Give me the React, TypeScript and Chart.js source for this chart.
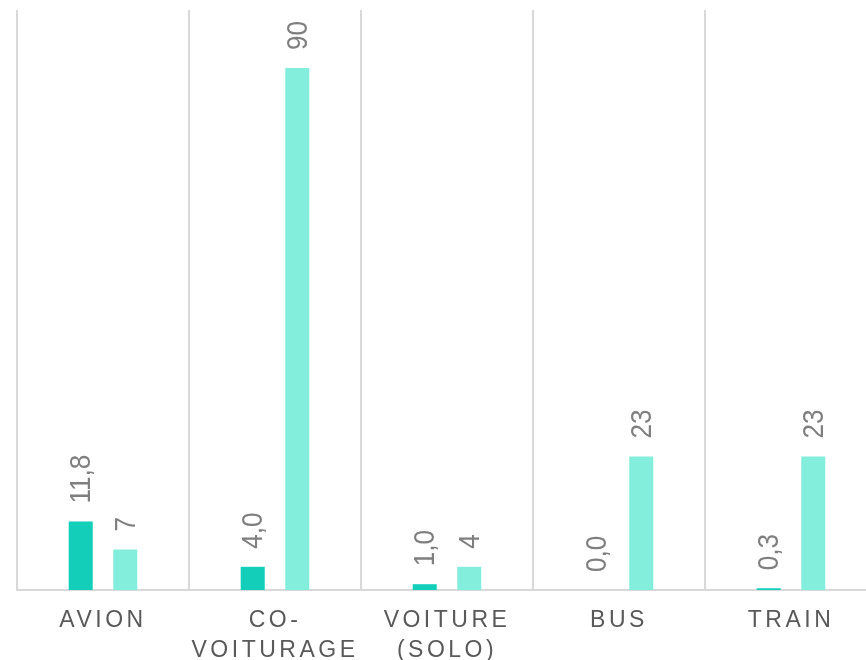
import React, { useEffect, useRef } from "react";
import { Chart, registerables } from "chart.js";

Chart.register(...registerables);

const categories: (string | string[])[] = [
  "AVION",
  ["CO-", "VOITURAGE"],
  ["VOITURE", "(SOLO)"],
  "BUS",
  "TRAIN",
];
const seriesA = [11.8, 4.0, 1.0, 0.0, 0.3];
const seriesB = [7, 90, 4, 23, 23];
const yMin = 0;
const yMax = 100;

const colorA = "#13cfb9";
const colorB = "#84eedc";

const FONT = "'Liberation Sans', Arial, sans-serif";

const labelPlugin = {
  id: "barLabels",
  beforeDraw(chart: any) {
    chart.ctx.letterSpacing = "3.5px";
  },
  beforeDatasetsDraw(chart: any) {
    chart.ctx.letterSpacing = "0px";
  },
  afterDatasetsDraw(chart: any) {
    const ctx = chart.ctx;
    ctx.save();
    ctx.letterSpacing = "0px";
    ctx.font = `30px ${FONT}`;
    ctx.fillStyle = "#7f7f7f";
    ctx.textAlign = "left";
    ctx.textBaseline = "middle";
    chart.data.datasets.forEach((ds: any, di: number) => {
      const meta = chart.getDatasetMeta(di);
      meta.data.forEach((bar: any, i: number) => {
        const v = ds.data[i];
        const txt = di === 0 ? v.toFixed(1).replace(".", ",") : String(Math.round(v));
        ctx.save();
        ctx.translate(bar.x, bar.y - 18);
        ctx.rotate(-Math.PI / 2);
        ctx.scale(0.87, 1);
        ctx.fillText(txt, 0, 1);
        ctx.restore();
      });
    });
    ctx.restore();
  },
};

export default function App() {
  const ref = useRef<HTMLCanvasElement | null>(null);
  useEffect(() => {
    if (!ref.current) return;
    const chart = new Chart(ref.current, {
      type: "bar",
      data: {
        labels: categories,
        datasets: [
          { data: seriesA, backgroundColor: colorA, borderWidth: 0 },
          { data: seriesB, backgroundColor: colorB, borderWidth: 0 },
        ],
      },
      options: {
        responsive: false,
        animation: false,
        layout: { padding: { left: 17, right: 3, top: 10, bottom: 0 } },
        plugins: {
          legend: { display: false },
          tooltip: { enabled: false },
        },
        datasets: {
          bar: { categoryPercentage: 0.518, barPercentage: 0.54 },
        },
        scales: {
          x: {
            grid: {
              display: true,
              offset: true,
              color: "#d9d9d9",
              lineWidth: 2,
              drawTicks: false,
            },
            border: { display: true, color: "#d9d9d9", width: 2 },
            ticks: {
              color: "#595959",
              font: { family: FONT, size: 23, lineHeight: 1.3 },
              padding: 16,
              maxRotation: 0,
              autoSkip: false,
            },
            afterFit: (scale: any) => {
              scale.height = 70;
            },
          },
          y: {
            display: false,
            min: yMin,
            max: yMax,
          },
        },
      },
      plugins: [labelPlugin],
    });
    return () => chart.destroy();
  }, []);
  return (
    <div
      style={{
        position: "absolute",
        left: 0,
        top: 0,
        width: 866,
        height: 660,
        overflow: "hidden",
        background: "#fff",
      }}
    >
      <canvas ref={ref} width={880} height={660} style={{ display: "block" }} />
    </div>
  );
}
